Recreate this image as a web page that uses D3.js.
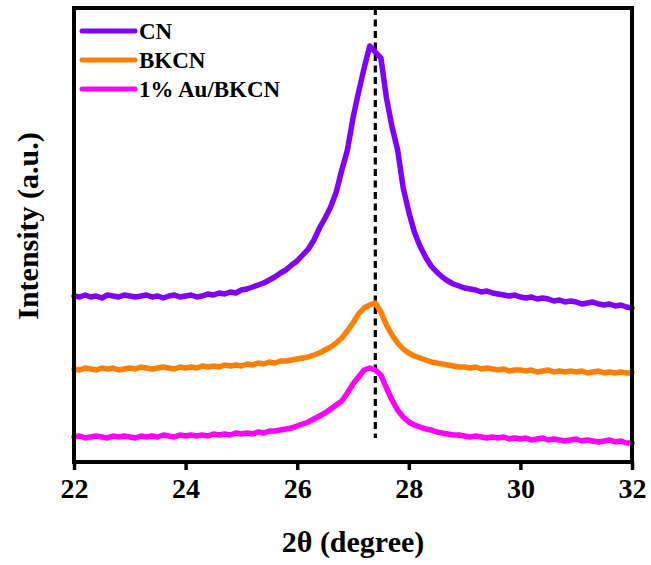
<!DOCTYPE html>
<html>
<head>
<meta charset="utf-8">
<script src="https://cdn.jsdelivr.net/npm/d3@7/dist/d3.min.js"></script>
<style>
  html, body { margin: 0; padding: 0; background: #fff; }
  svg { display: block; }
  text { font-family: "Liberation Serif", "Times New Roman", serif; font-weight: bold; fill: #000; }
</style>
</head>
<body>
<svg id="chart" width="651" height="565"></svg>
<script>
// ---- data ----
const twoTheta = [22.0,22.1,22.2,22.3,22.4,22.5,22.6,22.7,22.8,22.9,23.0,23.1,23.2,23.3,23.4,23.5,23.6,23.7,23.8,23.9,24.0,24.1,24.2,24.3,24.4,24.5,24.6,24.7,24.8,24.9,25.0,25.1,25.2,25.3,25.4,25.5,25.6,25.7,25.8,25.9,26.0,26.1,26.2,26.3,26.4,26.5,26.6,26.7,26.8,26.9,27.0,27.1,27.2,27.3,27.4,27.5,27.6,27.7,27.8,27.9,28.0,28.1,28.2,28.3,28.4,28.5,28.6,28.7,28.8,28.9,29.0,29.1,29.2,29.3,29.4,29.5,29.6,29.7,29.8,29.9,30.0,30.1,30.2,30.3,30.4,30.5,30.6,30.7,30.8,30.9,31.0,31.1,31.2,31.3,31.4,31.5,31.6,31.7,31.8,31.9,32.0];

const seriesNames = ["CN", "BKCN", "1% Au/BKCN"];
const seriesColors = ["#8000ff", "#ff8000", "#ff00ff"];

const cnIntensity = [166,165,167,165,166,164,167,166,165,167,166,165,166,167,165,166,164,166,167,165,166,167,165,166,168,167,169,168,170,169,172,173,175,177,179,182,185,189,192,197,201,207,213,222,234,244,255,270,292,312,344,370,394,416,410,404,364,335,312,274,250,230,216,205,196,190,185,181,178,176,174,173,172,170,171,169,168,167,166,167,165,164,165,163,164,163,161,162,160,161,160,158,159,160,158,157,158,156,157,155,154];

const bkcnIntensity = [93,92,94,93,92,94,93,94,92,93,94,93,95,94,93,94,95,94,93,95,94,95,94,96,95,96,95,97,96,97,96,98,97,99,98,100,99,101,101,102,103,104,105,107,109,112,115,119,124,131,139,148,154,157,159,150,137,127,119,113,109,106,104,102,100,99,98,97,96,95,95,94,95,93,94,93,92,93,91,92,92,91,92,90,91,92,90,91,90,91,90,91,89,90,91,89,90,89,90,89,89];

const auBkcnIntensity = [25,26,24,25,26,25,24,26,25,26,25,24,26,25,26,25,27,26,25,27,26,27,26,27,26,28,27,28,27,29,28,29,28,30,29,31,31,32,33,34,36,38,40,43,46,49,53,57,61,69,78,85,92,94,92,87,74,62,52,45,40,37,35,33,32,30,29,28,27,27,26,25,26,25,24,25,24,25,23,24,23,24,22,23,24,22,23,22,21,22,23,21,22,21,20,21,22,20,21,19,19];

const xTicks = [22, 24, 26, 28, 30, 32];
const peakPosition = 27.4;
const dashEndIntensity = 24;

// ---- layout ----
const svg = d3.select("#chart");
const mLeft = 74, mRight = 632, mTop = 8, mBottom = 462;

const x = d3.scaleLinear().domain([22, 32]).range([mLeft, mRight]);
const y = d3.scaleLinear().domain([0, 454]).range([mBottom, mTop]);

const allSeries = [cnIntensity, bkcnIntensity, auBkcnIntensity];

// dashed reference line
svg.append("line")
  .attr("x1", x(peakPosition)).attr("x2", x(peakPosition))
  .attr("y1", mTop).attr("y2", y(dashEndIntensity))
  .attr("stroke", "#000").attr("stroke-width", 3.2)
  .attr("stroke-dasharray", "7,4.5");

// series
const line = d3.line()
  .x((d, i) => x(twoTheta[i]))
  .y(d => y(d));

allSeries.forEach((vals, k) => {
  svg.append("path")
    .datum(vals)
    .attr("d", line)
    .attr("fill", "none")
    .attr("stroke", seriesColors[k])
    .attr("stroke-width", 5.5)
    .attr("stroke-linejoin", "round")
    .attr("stroke-linecap", "round");
});

// frame
svg.append("rect")
  .attr("x", mLeft).attr("y", mTop)
  .attr("width", mRight - mLeft).attr("height", mBottom - mTop)
  .attr("fill", "none").attr("stroke", "#000").attr("stroke-width", 4);

// x axis
const xAxis = d3.axisBottom(x).tickValues(xTicks).tickSize(8).tickFormat(d3.format("d"));
const gx = svg.append("g").attr("transform", `translate(0,${mBottom})`).call(xAxis);
gx.select(".domain").remove();
gx.selectAll(".tick line").attr("stroke", "#000").attr("stroke-width", 3.5);
gx.selectAll(".tick text")
  .attr("font-family", "Liberation Serif, Times New Roman, serif")
  .attr("font-weight", "bold").attr("font-size", 28).attr("fill", "#000")
  .attr("y", 36).attr("dy", 0);

// axis titles
svg.append("text")
  .attr("x", (mLeft + mRight) / 2).attr("y", 552)
  .attr("text-anchor", "middle").attr("font-size", 30)
  .text("2θ (degree)");

svg.append("text")
  .attr("transform", `translate(38,226) rotate(-90)`)
  .attr("text-anchor", "middle").attr("font-size", 30)
  .text("Intensity (a.u.)");

// legend
const legend = svg.append("g");
seriesNames.forEach((name, k) => {
  const ly = 31 + k * 29;
  legend.append("line")
    .attr("x1", 82).attr("x2", 135).attr("y1", ly).attr("y2", ly)
    .attr("stroke", seriesColors[k]).attr("stroke-width", 5).attr("stroke-linecap", "round");
  legend.append("text")
    .attr("x", 139).attr("y", ly + 8)
    .attr("font-size", 23)
    .text(name);
});
</script>
</body>
</html>
